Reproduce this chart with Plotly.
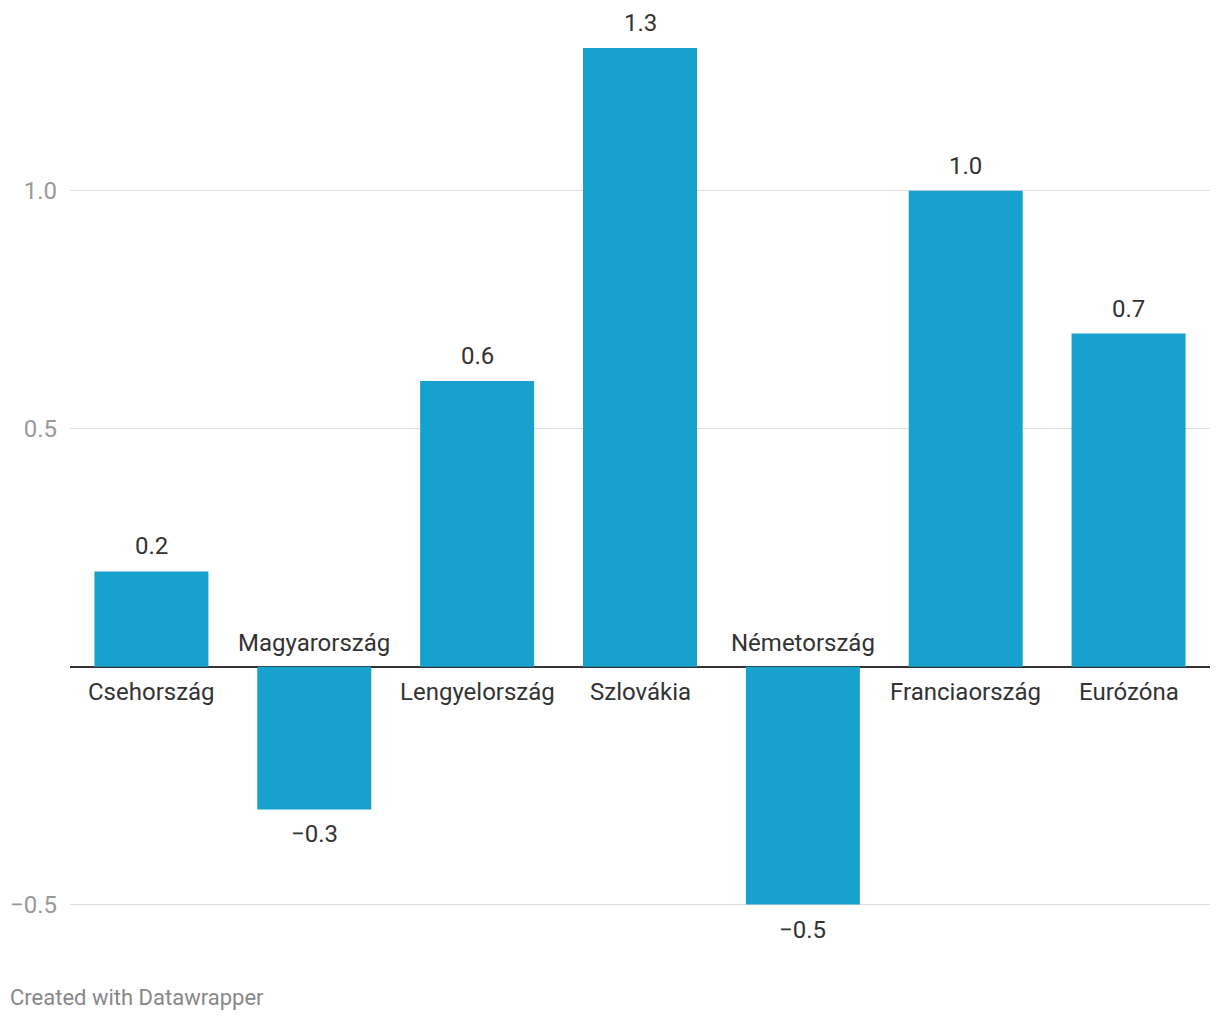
import plotly.graph_objects as go

categories = ["Csehország", "Magyarország", "Lengyelország", "Szlovákia",
              "Németország", "Franciaország", "Eurózóna"]
values = [0.2, -0.3, 0.6, 1.3, -0.5, 1.0, 0.7]
tick_vals = [-0.5, 0.5, 1.0]
tick_text = ["\u22120.5", "0.5", "1.0"]

BAR = "#18a1cd"
TXT = "#333333"
FONT = "Roboto"

def fmt(v):
    s = f"{abs(v):.1f}"
    return ("\u2212" + s) if v < 0 else s

fig = go.Figure()
fig.add_trace(go.Bar(x=categories, y=values, marker=dict(color=BAR, line=dict(width=0)),
                     width=0.7, hoverinfo="skip"))

ann = []
for c, v in zip(categories, values):
    up = v >= 0
    ann.append(dict(x=c, y=v, xref="x", yref="y", text=fmt(v), showarrow=False,
                    yshift=25 if up else -25, yanchor="middle",
                    font=dict(family=FONT, size=24, color=TXT)))
    ann.append(dict(x=c, y=0, xref="x", yref="y", text=c, showarrow=False,
                    yshift=-25 if up else 24, yanchor="middle",
                    font=dict(family=FONT, size=24, color=TXT)))
ann.append(dict(x=0, y=0, xref="paper", yref="paper", text="Created with Datawrapper",
                showarrow=False, xanchor="left", yanchor="middle", xshift=-62, yshift=-91,
                font=dict(family=FONT, size=22, color="#888888")))

fig.update_layout(
    width=1204, height=1004,
    margin=dict(l=62, r=2, t=40, b=106),
    paper_bgcolor="white", plot_bgcolor="white",
    showlegend=False, bargap=0.3,
    annotations=ann,
    xaxis=dict(showticklabels=False, showgrid=False, zeroline=False, showline=False,
               range=[-0.5, 6.5], fixedrange=True),
    yaxis=dict(range=[-0.503, 1.3], tickvals=tick_vals, ticktext=tick_text,
               showgrid=True, gridcolor="#dedede", gridwidth=1,
               zeroline=True, zerolinecolor="#333333", zerolinewidth=2,
               showline=False, ticks="", ticklabelstandoff=12,
               tickfont=dict(family=FONT, size=24, color="#999999"), fixedrange=True),
    font=dict(family=FONT),
)
fig.write_html("out.html", config={"displayModeBar": False})
